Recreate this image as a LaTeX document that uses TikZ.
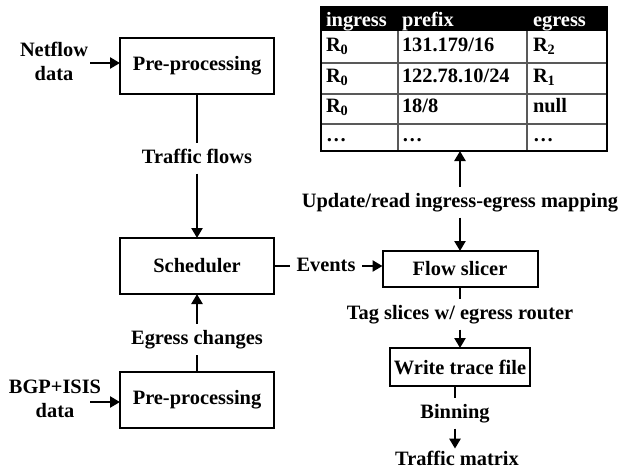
\documentclass[tikz,border=0pt]{standalone}
\usepackage{fontspec}
\setmainfont{Liberation Serif}
\usetikzlibrary{arrows.meta}
\begin{document}
\begin{tikzpicture}[x=1pt,y=-1pt,
  every node/.style={font=\fontsize{20.4}{24}\selectfont\bfseries, inner sep=0pt, outer sep=0pt},
  box/.style={draw, line width=2pt, minimum width=154pt, minimum height=56pt},
  lbl/.style={text height=15pt, text depth=4pt, inner xsep=7pt, inner ysep=6pt},
  ln/.style={line width=2.5pt},
  arr/.style={line width=2.5pt, -{Triangle[length=10pt,width=11pt]}},
  cell/.style={anchor=base west},
  grid/.style={line width=1.2pt, draw=black!65}]
\useasboundingbox[fill=white] (0,0) rectangle (619,472);

% left column
\node[box] (pre1) at (197,66) {Pre-processing};
\node[align=center] (nf) at (54,61) {Netflow\\data};
\coordinate (nfa) at (90,63);
\draw[arr] (nfa) -- (nfa -| pre1.west);

\node[lbl] (tf) at (197,158) {Traffic flows};
\draw[ln] (pre1) -- (tf);

\node[box] (sched) at (197,266) {Scheduler};
\draw[arr] (tf) -- (sched);

\node[lbl] (eg) at (197,339) {Egress changes};
\node[box] (pre2) at (197,400) {Pre-processing};
\draw[ln] (pre2) -- (eg);
\draw[arr] (eg) -- (sched);

\node[align=center] (bgp) at (55,399) {BGP+ISIS\\data};
\coordinate (bga) at (90,402);
\draw[arr] (bga) -- (bga -| pre2.west);

% events
\node[box, minimum width=155pt, minimum height=36pt] (sl) at (460,269) {Flow slicer};
\node[lbl] (ev) at (326,266) {Events};
\draw[ln] (sched.east |- ev) -- (ev.west);
\draw[arr] (ev.east) -- (sl.west |- ev);

% table
\node[minimum width=286pt, minimum height=144pt] (tbl) at (464,79) {};
\fill (tbl.north west) rectangle (607,31);
\draw[grid] (398,31) -- (398,151);
\draw[grid] (527,31) -- (527,151);
\draw[grid] (321,63) -- (607,63);
\draw[grid] (321,94) -- (607,94);
\draw[grid] (321,124) -- (607,124);
\draw[line width=2pt] (tbl.north west) rectangle (tbl.south east);
\node[cell, text=white] (h1) at (326,26) {ingress};
\node[cell, text=white] (h2) at (402,26) {prefix};
\node[cell, text=white] (h3) at (533,26) {egress};
\node[cell] (a1) at (326,51) {R\textsubscript{0}};
\node[cell] (b1) at (402,51) {131.179/16};
\node[cell] (c1) at (533,51) {R\textsubscript{2}};
\node[cell] (a2) at (326,82) {R\textsubscript{0}};
\node[cell] (b2) at (402,82) {122.78.10/24};
\node[cell] (c2) at (533,82) {R\textsubscript{1}};
\node[cell] (a3) at (326,112) {R\textsubscript{0}};
\node[cell] (b3) at (402,112) {18/8};
\node[cell] (c3) at (533,112) {null};
\node[cell] (a4) at (326,141) {…};
\node[cell] (b4) at (402,141) {…};
\node[cell] (c4) at (533,141) {…};

% mapping
\node[lbl] (upd) at (460,202) {Update/read ingress-egress mapping};
\draw[arr] (upd) -- (upd.north |- tbl.south);
\draw[arr] (upd) -- (sl);

% lower right chain
\node[lbl] (tag) at (460,314) {Tag slices w/ egress router};
\draw[ln] (sl) -- (tag);
\node[box, minimum width=140pt, minimum height=38pt] (wr) at (460,367) {Write trace file};
\draw[arr] (tag) -- (wr);
\node[lbl] (bin) at (455,413) {Binning};
\draw[ln] (wr.south -| bin) -- (bin);
\node[anchor=base, inner sep=2pt] (tm) at (457,465) {Traffic matrix};
\draw[arr] (bin) -- (bin |- tm.north);
\end{tikzpicture}
\end{document}
